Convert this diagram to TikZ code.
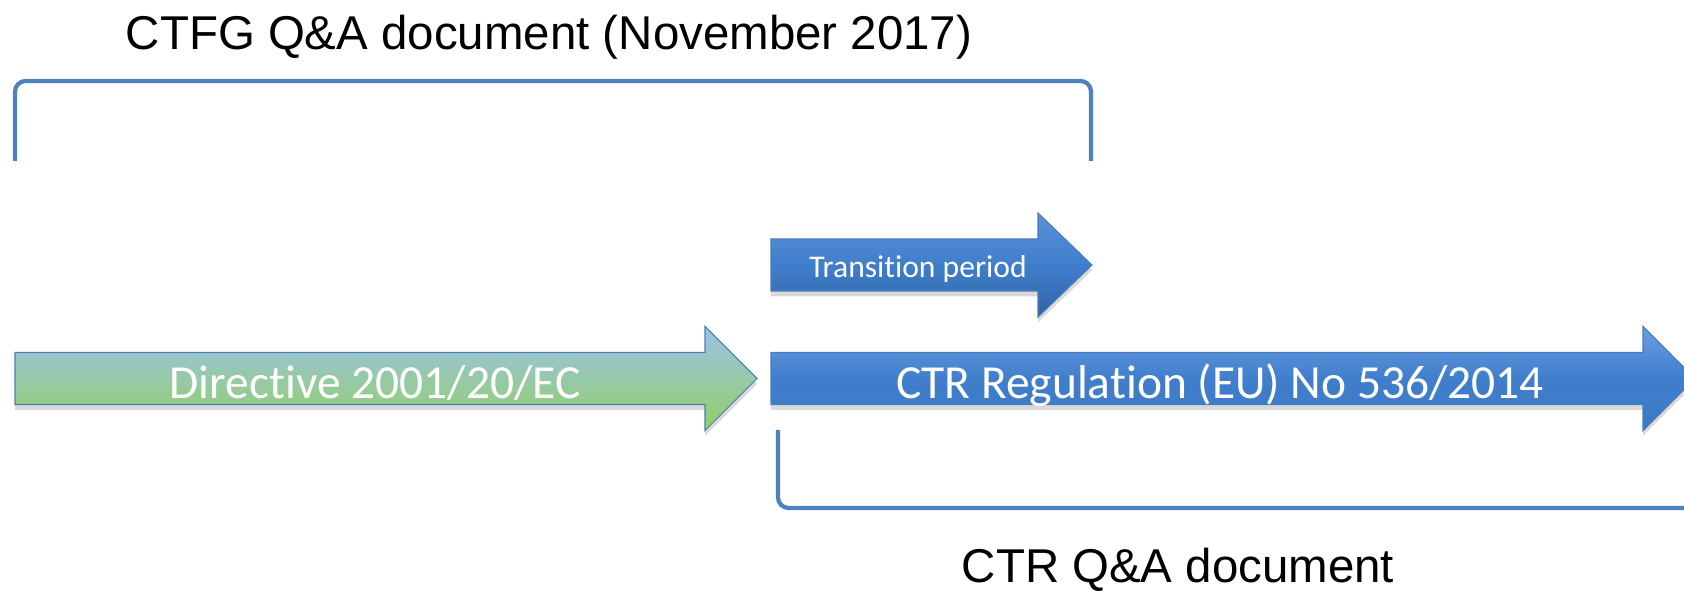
\documentclass[tikz,border=0pt]{standalone}
\usepackage{fontspec}
\setmainfont{Liberation Sans}
\newfontfamily\calibri[Ligatures=NoCommon]{Carlito}
\usepackage{tikz}
\usetikzlibrary{shadows}
\definecolor{bracket}{RGB}{79, 129, 189}
\definecolor{edge}{RGB}{74, 126, 187}
\definecolor{skyblue}{RGB}{155, 194, 234}
\definecolor{leaf}{RGB}{146, 208, 100}
\definecolor{toplight}{RGB}{108, 158, 226}
\definecolor{midblue}{RGB}{64, 126, 204}
\definecolor{deepblue}{RGB}{46, 100, 166}

\tikzset{
  brace/.style={bracket, line width=2.4pt, rounded corners=6pt, line cap=butt},
  arrowbody/.style={draw=edge, line width=0.6pt,
    drop shadow={opacity=0.3, shadow xshift=0pt, shadow yshift=-3pt}},
  headtext/.style={anchor=base, inner sep=0pt, font=\fontsize{27}{32}\selectfont},
  arrowtext/.style={anchor=base, inner sep=0pt, text=white, font=\calibri\fontsize{27}{32}\selectfont}
}

\begin{document}
\begin{tikzpicture}
  \useasboundingbox (0, 0) rectangle (33.68, 11.84);
  \clip (0, 0) rectangle (33.68, 11.84);

  % Directive arrow
  \path[arrowbody, top color=skyblue, bottom color=leaf] (0.30, 3.75)
    \foreach \x/\y in {14.10/3.75, 14.10/3.23, 15.14/4.27, 14.10/5.31, 14.10/4.79, 0.30/4.79} {
      -- (\x, \y)
  } -- cycle;

  % Regulation arrow
  \path[arrowbody, top color=toplight, bottom color=midblue!80!deepblue, middle color=midblue] (15.42, 3.75)
    \foreach \x/\y in {32.86/3.75, 32.86/3.23, 33.90/4.27, 32.86/5.31, 32.86/4.79, 15.42/4.79} {
      -- (\x, \y)
  } -- cycle;

  % Transition arrow
  \path[arrowbody, top color=midblue!85!white, bottom color=deepblue, middle color=midblue] (15.42, 6.02)
    \foreach \x/\y in {20.76/6.02, 20.76/5.50, 21.84/6.54, 20.76/7.58, 20.76/7.06, 15.42/7.06} {
      -- (\x, \y)
  } -- cycle;

  % Brackets
  \draw[brace] (0.30, 8.62) -- (0.30, 10.22) -- (21.82, 10.22) -- (21.82, 8.62);
  \draw[brace] (15.56, 3.24) -- (15.56, 1.68) -- (34.20, 1.68);

  \node[arrowtext] (directive) at (7.50, 3.87) {Directive 2001/20/EC};
  \node[arrowtext] (regulation) at (24.40, 3.86) {CTR Regulation (EU) No 536/2014};
  \node[arrowtext, font=\calibri\fontsize{18}{22}\selectfont] (transition) at (18.36, 6.28) {Transition period};

  \node[headtext] (ctfgqa) at (10.98, 10.84) {CTFG Q\&A document (November 2017)};
  \node[headtext] (ctrqa) at (23.56, 0.18) {CTR Q\&A document};

\end{tikzpicture}
\end{document}
